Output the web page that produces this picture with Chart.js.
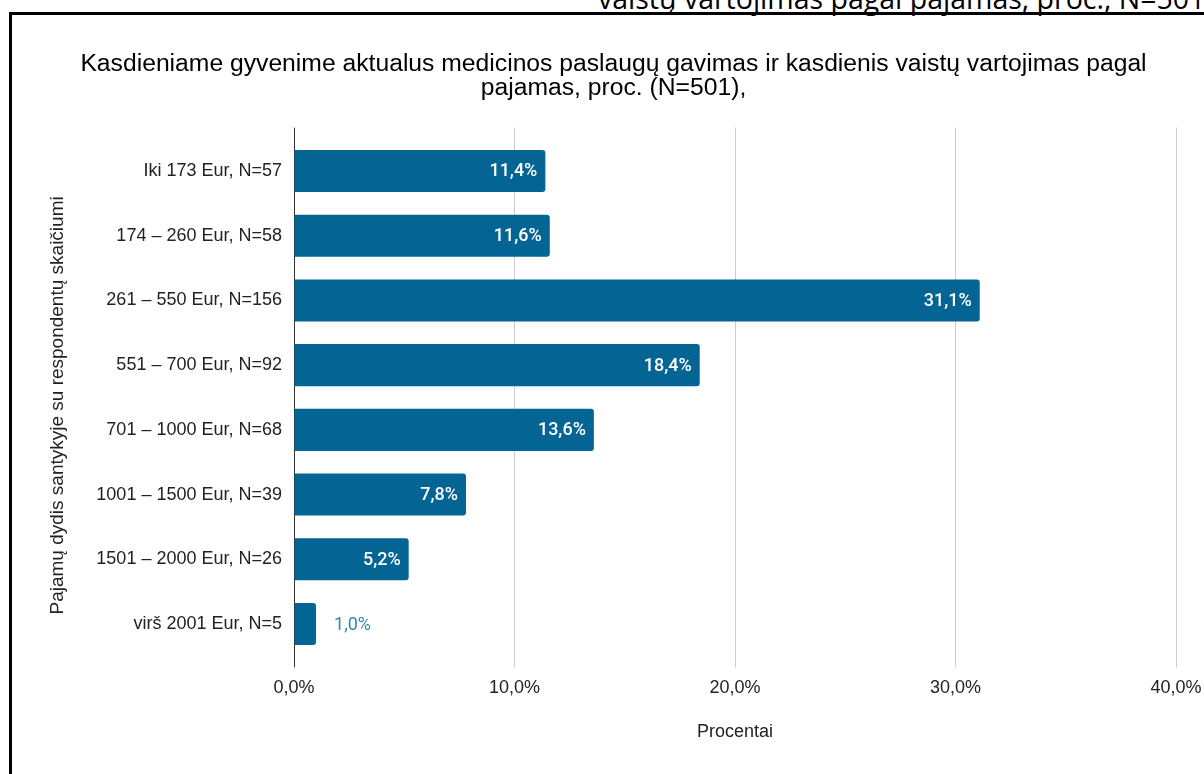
<!DOCTYPE html>
<html lang="lt">
<head>
<meta charset="utf-8">
<title>Pajamos ir medicinos paslaugos</title>
<script src="https://cdn.jsdelivr.net/npm/chart.js"></script>
<style>
    html, body {
        margin: 0;
        padding: 0;
        background: #ffffff;
        overflow: hidden;
        width: 1204px;
        height: 774px;
    }
    #incomeChart {
        position: absolute;
        left: 0;
        top: 0;
    }
    .frame {
        position: absolute;
        left: 9px;
        top: 12px;
        width: 1220px;
        height: 800px;
        border: 3px solid #000;
        pointer-events: none;
    }
    .cut-caption {
        position: absolute;
        left: 598px;
        top: -19px;
        font-family: 'Open Sans', sans-serif;
        font-size: 28.5px;
        line-height: 34px;
        white-space: nowrap;
        color: #000;
    }
</style>
</head>
<body>
<div class="cut-caption">vaistų vartojimas pagal pajamas, proc., N=501</div>
<canvas id="incomeChart" width="1204" height="774"></canvas>
<div class="frame"></div>

<script>
// Income groups (with respondent counts) and their shares in percent
const incomeGroups = [
    'Iki 173 Eur, N=57',
    '174 – 260 Eur, N=58',
    '261 – 550 Eur, N=156',
    '551 – 700 Eur, N=92',
    '701 – 1000 Eur, N=68',
    '1001 – 1500 Eur, N=39',
    '1501 – 2000 Eur, N=26',
    'virš 2001 Eur, N=5'
];
const shares = [11.4, 11.6, 31.1, 18.4, 13.6, 7.8, 5.2, 1.0];
const axisTicks = [0, 10, 20, 30, 40];

const chartTitle = [
    'Kasdieniame gyvenime aktualus medicinos paslaugų gavimas ir kasdienis vaistų vartojimas pagal',
    'pajamas, proc. (N=501),'
];

const BAR_COLOR = '#046494';
const OUTSIDE_LABEL_COLOR = '#2e87b8';
const GRID_COLOR = '#cccccc';
const AXIS_COLOR = '#333333';
const TEXT_COLOR = '#222222';
const AXIS_FONT = { family: "'Liberation Sans', Arial, sans-serif", size: 18 };

function formatPercent(v) {
    return Number(v).toFixed(1).replace('.', ',') + '%';
}

function gridColor(context) {
    return context.tick && context.tick.value === 0 ? AXIS_COLOR : GRID_COLOR;
}

// Value labels: inside the bar end when they fit, otherwise just after it
const barValueLabels = {
    id: 'barValueLabels',
    afterDatasetsDraw(chart) {
        const ctx = chart.ctx;
        const meta = chart.getDatasetMeta(0);
        ctx.save();
        ctx.textBaseline = 'middle';
        meta.data.forEach((bar, i) => {
            const text = formatPercent(shares[i]);
            ctx.font = '500 18px Roboto, sans-serif';
            const textWidth = ctx.measureText(text).width;
            if (bar.x - bar.base > textWidth + 16) {
                ctx.fillStyle = '#ffffff';
                ctx.textAlign = 'right';
                ctx.fillText(text, bar.x - 8, bar.y + 1);
            } else {
                ctx.font = '400 18px Roboto, sans-serif';
                ctx.fillStyle = OUTSIDE_LABEL_COLOR;
                ctx.textAlign = 'left';
                ctx.fillText(text, bar.x + 18, bar.y + 1);
            }
        });
        ctx.restore();
    }
};

document.addEventListener('DOMContentLoaded', function() {
    createIncomeChart();
});

function createIncomeChart() {
    const ctx = document.getElementById('incomeChart');
    if (!ctx) return;

    new Chart(ctx, {
        type: 'bar',
        data: {
            labels: incomeGroups,
            datasets: [{
                label: 'Procentai',
                data: shares,
                backgroundColor: BAR_COLOR,
                borderRadius: 3,
                borderSkipped: 'start',
                categoryPercentage: 1,
                barPercentage: 0.65
            }]
        },
        options: {
            indexAxis: 'y',
            responsive: false,
            animation: false,
            devicePixelRatio: 1,
            layout: {
                padding: { left: 23, right: 0, top: 0, bottom: 0 }
            },
            plugins: {
                legend: { display: false },
                tooltip: { enabled: false },
                title: {
                    display: true,
                    text: chartTitle,
                    color: '#000000',
                    font: { family: "'Liberation Sans', Arial, sans-serif", size: 24.7, weight: 'normal', lineHeight: '24px' },
                    padding: { top: 52, bottom: 27.6 }
                }
            },
            scales: {
                x: {
                    type: 'linear',
                    position: 'bottom',
                    min: axisTicks[0],
                    max: axisTicks[axisTicks.length - 1],
                    afterBuildTicks: scale => {
                        scale.ticks = axisTicks.map(v => ({ value: v }));
                    },
                    ticks: {
                        padding: 10,
                        color: TEXT_COLOR,
                        font: AXIS_FONT,
                        callback: v => formatPercent(v)
                    },
                    grid: {
                        color: gridColor,
                        lineWidth: 1,
                        tickLength: 11
                    },
                    border: { display: false },
                    title: {
                        display: true,
                        text: 'Procentai',
                        color: TEXT_COLOR,
                        font: AXIS_FONT,
                        padding: { top: 0, bottom: 31 }
                    },
                    afterFit: scale => {
                        scale.height = 117.6;
                        scale.paddingRight = 28;
                    }
                },
                // Only used to let the grid lines stick out above the plot
                xTop: {
                    type: 'linear',
                    position: 'top',
                    min: axisTicks[0],
                    max: axisTicks[axisTicks.length - 1],
                    afterBuildTicks: scale => {
                        scale.ticks = axisTicks.map(v => ({ value: v }));
                    },
                    ticks: { display: false },
                    grid: {
                        color: gridColor,
                        lineWidth: 1,
                        drawOnChartArea: false,
                        tickLength: 11
                    },
                    border: { display: false },
                    afterFit: scale => {
                        scale.height = 11;
                        scale.paddingLeft = 0;
                        scale.paddingRight = 0;
                    }
                },
                y: {
                    type: 'category',
                    grid: { display: false, drawTicks: false },
                    border: { display: false },
                    ticks: {
                        padding: 12,
                        color: TEXT_COLOR,
                        font: AXIS_FONT
                    },
                    title: {
                        display: true,
                        // trailing spaces nudge the rotated title down a little, as in the original
                        text: 'Pajamų dydis santykyje su respondentų skaičiumi   ',
                        color: TEXT_COLOR,
                        font: { family: AXIS_FONT.family, size: 19 },
                        padding: { top: 23, bottom: 0 }
                    },
                    afterFit: scale => {
                        scale.width = 271;
                    }
                }
            }
        },
        plugins: [barValueLabels]
    });
}
</script>
</body>
</html>
